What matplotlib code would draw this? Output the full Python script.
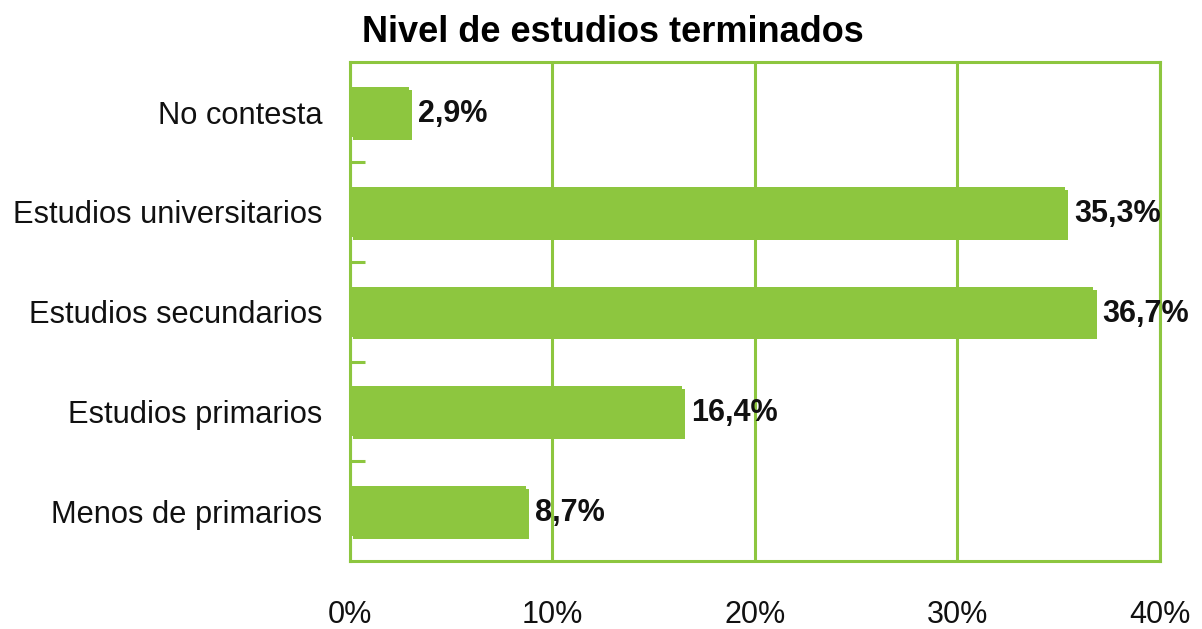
import matplotlib.pyplot as plt
import matplotlib.patheffects as pe
from matplotlib.ticker import FixedLocator

categories = ["Menos de primarios", "Estudios primarios", "Estudios secundarios",
              "Estudios universitarios", "No contesta"]
values = [8.7, 16.4, 36.7, 35.3, 2.9]
value_labels = ["8,7%", "16,4%", "36,7%", "35,3%", "2,9%"]
x_ticks = [0, 10, 20, 30, 40]
x_tick_labels = ["0%", "10%", "20%", "30%", "40%"]

GREEN = "#8dc63f"


def plot_bars(out_name="out"):
    plt.rcParams["font.family"] = ["Liberation Sans", "DejaVu Sans"]
    fig = plt.figure(figsize=(12.02, 6.29), dpi=100)
    ax = fig.add_axes([0.291, 0.108, 0.674, 0.793])

    pos = list(range(len(categories)))
    bars = ax.barh(pos, values, height=0.5, color=GREEN, zorder=3)
    # small offset shadow like the original's bars
    for b in bars:
        b.set_path_effects([pe.SimplePatchShadow(offset=(2.5, -2), shadow_rgbFace=GREEN, alpha=1.0),
                            pe.Normal()])
    for p, v, lab in zip(pos, values, value_labels):
        ax.text(v + 0.45, p - 0.02, lab, va="center", ha="left", fontsize=22,
                fontweight="bold", color="#111111", zorder=4)

    ax.set_xlim(0, 40)
    ax.set_ylim(-0.5, len(categories) - 0.5)
    ax.set_xticks(x_ticks)
    ax.set_xticklabels(x_tick_labels, fontsize=22, color="#111111")
    ax.set_yticks(pos)
    ax.set_yticklabels(categories, fontsize=22.2, color="#111111")
    ax.tick_params(axis="x", length=0, pad=28)
    ax.tick_params(axis="y", which="major", length=0, pad=20)
    ax.yaxis.set_minor_locator(FixedLocator([0.5, 1.5, 2.5, 3.5]))
    ax.tick_params(axis="y", which="minor", direction="in", length=11,
                   width=2.2, color=GREEN)

    ax.grid(axis="x", color=GREEN, linewidth=2.2, zorder=1)
    for s in ax.spines.values():
        s.set_color(GREEN)
        s.set_linewidth(2.2)

    fig.text(362 / 1202, 1 - 32 / 629, "Nivel de estudios terminados",
             fontsize=26, fontweight="bold", ha="left", va="center")

    fig.savefig(f"{out_name}.png", dpi=100)


def main():
    plot_bars()


if __name__ == "__main__":
    main()
